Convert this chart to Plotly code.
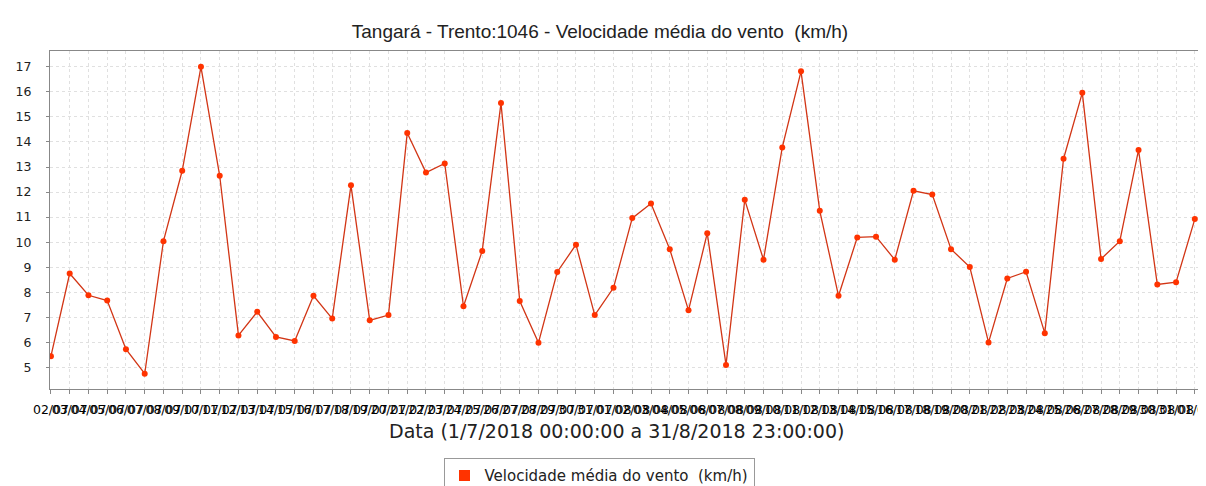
import plotly.graph_objects as go
import pandas as pd

dates = pd.date_range("2018-07-02", periods=62, freq="D")
date_labels = [d.strftime("%d/%m") for d in dates]

wind_speed = [5.45, 8.75, 7.88, 7.67, 5.73, 4.75, 10.04, 12.85, 17.0, 12.65,
              6.28, 7.22, 6.22, 6.06, 7.86, 6.95, 12.27, 6.88, 7.09, 14.36,
              12.78, 13.14, 7.44, 9.65, 15.55, 7.65, 5.99, 8.81, 9.9, 7.09,
              8.18, 10.96, 11.54, 9.72, 7.28, 10.36, 5.1, 11.69, 9.3, 13.78,
              16.82, 11.25, 7.86, 10.19, 10.22, 9.3, 12.05, 11.9, 9.72, 9.01,
              6.0, 8.55, 8.82, 6.37, 13.33, 15.96, 9.33, 10.04, 13.68, 8.31,
              8.4, 10.92]

y_ticks = list(range(5, 18))

series_name = "Velocidade média do vento  (km/h)"
title_text = "Tangará - Trento:1046 - Velocidade média do vento  (km/h)"
x_title = "Data (1/7/2018 00:00:00 a 31/8/2018 23:00:00)"

font = "DejaVu Sans"

fig = go.Figure()
fig.add_trace(go.Scatter(
    x=date_labels, y=wind_speed, mode="lines+markers",
    line=dict(color="#d23515", width=1.3),
    marker=dict(color="#ff3300", size=6, symbol="circle"),
    showlegend=False, name=series_name,
))
fig.add_trace(go.Scatter(
    x=[None], y=[None], mode="markers",
    marker=dict(color="#ff3300", size=11, symbol="square"),
    name=series_name, showlegend=True,
))

fig.update_layout(
    width=1206, height=486,
    margin=dict(l=42, r=1, t=43, b=92),
    paper_bgcolor="white", plot_bgcolor="white",
    title=dict(text=title_text, x=592 / 1206, xanchor="center",
               y=1 - 23 / 486, yanchor="middle", yref="container",
               font=dict(family="Liberation Sans", size=19, color="#222")),
    font=dict(family=font, color="#222"),
    legend=dict(orientation="h", x=(591 - 42) / 1163, xanchor="center",
                y=(394 - 466) / 351, yanchor="top",
                bordercolor="#999", borderwidth=1,
                font=dict(family=font, size=15, color="#222"),
                itemwidth=30, bgcolor="white"),
    annotations=[dict(
        text=x_title, xref="paper", yref="paper",
        x=(608 - 42) / 1163, y=(394 - 438) / 351,
        xanchor="center", yanchor="middle", showarrow=False,
        font=dict(family=font, size=19, color="#222"),
    )],
)

fig.update_xaxes(
    type="category", range=[-0.05, 61.97], automargin=False,
    tickmode="array", tickvals=date_labels, ticktext=date_labels,
    tickangle=0, tickfont=dict(size=12.5, color="#000"),
    ticks="outside", ticklen=4, tickcolor="#888", ticklabelstandoff=5,
    showgrid=True, gridcolor="#e0e0e0", griddash="dot", gridwidth=1,
    showline=True, linecolor="#888", linewidth=1, mirror=True,
    zeroline=False,
)
fig.update_yaxes(
    range=[4.14, 17.63], tickmode="array", tickvals=y_ticks, automargin=False,
    tickfont=dict(size=12.5, color="#222"),
    ticks="outside", ticklen=3, tickcolor="#888", ticklabelstandoff=12,
    showgrid=True, gridcolor="#e0e0e0", griddash="dot", gridwidth=1,
    showline=True, linecolor="#888", linewidth=1, mirror=True,
    zeroline=False,
)

fig.write_html("out.html")
